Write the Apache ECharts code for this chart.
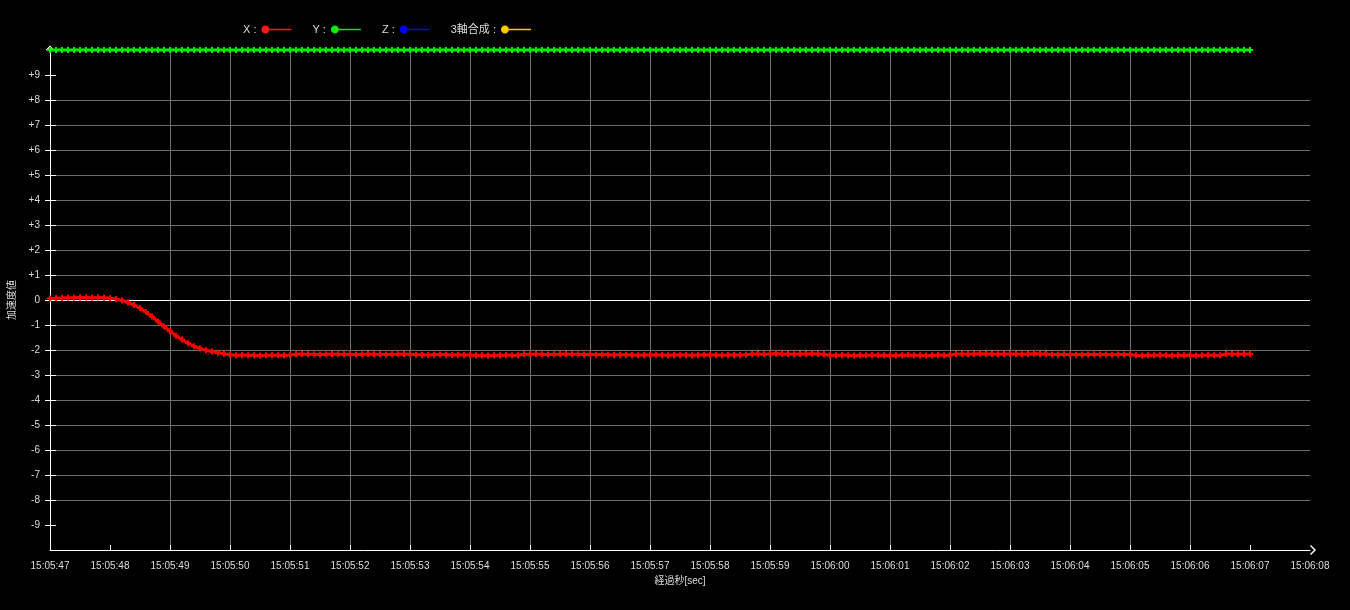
<!DOCTYPE html>
<html>
<head>
<meta charset="utf-8">
<script src="https://cdn.jsdelivr.net/npm/echarts@6/dist/echarts.min.js"></script>
<style>
html,body{margin:0;padding:0;background:#000;}
#c{width:1350px;height:610px;}
</style>
</head>
<body>
<div id="c"></div>
<script>
// sample times in tenths of a second after 15:05:47
const tenths = [0,1,2,3,4,5,6,7,8,9,10,11,12,13,14,15,16,17,18,19,20,21,22,23,24,25,26,27,28,29,30,31,32,33,34,35,36,37,38,39,40,41,42,43,44,45,46,47,48,49,50,51,52,53,54,55,56,57,58,59,60,61,62,63,64,65,66,67,68,69,70,71,72,73,74,75,76,77,78,79,80,81,82,83,84,85,86,87,88,89,90,91,92,93,94,95,96,97,98,99,100,101,102,103,104,105,106,107,108,109,110,111,112,113,114,115,116,117,118,119,120,121,122,123,124,125,126,127,128,129,130,131,132,133,134,135,136,137,138,139,140,141,142,143,144,145,146,147,148,149,150,151,152,153,154,155,156,157,158,159,160,161,162,163,164,165,166,167,168,169,170,171,172,173,174,175,176,177,178,179,180,181,182,183,184,185,186,187,188,189,190,191,192,193,194,195,196,197,198,199,200];
const xVals = [0.06,0.07,0.08,0.09,0.09,0.1,0.1,0.09,0.1,0.09,
0.07,0.04,-0.02,-0.1,-0.2,-0.33,-0.48,-0.66,-0.86,-1.06,
-1.25,-1.43,-1.58,-1.73,-1.85,-1.94,-2.01,-2.06,-2.11,-2.15,-2.19,
-2.21,-2.2,-2.21,-2.21,-2.22,-2.21,-2.2,-2.21,-2.21,-2.2,
-2.17,-2.16,-2.17,-2.17,-2.18,-2.17,-2.16,-2.17,-2.17,-2.17,-2.18,-2.17,-2.16,-2.17,-2.17,-2.18,-2.17,-2.17,-2.16,-2.17,
-2.19,-2.19,-2.2,-2.19,-2.18,-2.19,-2.2,-2.19,-2.2,-2.2,
-2.21,-2.21,-2.22,-2.21,-2.21,-2.2,-2.21,-2.21,
-2.17,-2.17,-2.16,-2.17,-2.18,-2.17,-2.17,-2.16,-2.17,-2.17,-2.18,-2.17,
-2.19,-2.18,-2.19,-2.2,-2.19,-2.19,
-2.2,-2.21,-2.2,-2.2,-2.19,-2.2,-2.21,-2.2,-2.2,-2.2,-2.21,-2.2,-2.19,-2.2,-2.2,-2.21,-2.2,-2.2,-2.2,-2.19,
-2.16,-2.16,-2.17,-2.16,-2.15,-2.16,-2.16,-2.17,-2.16,-2.16,-2.15,-2.16,-2.17,
-2.21,-2.21,-2.2,-2.21,-2.22,-2.21,-2.21,-2.2,-2.21,-2.21,-2.22,-2.21,-2.21,-2.2,-2.21,-2.21,-2.22,-2.21,-2.2,-2.21,-2.21,
-2.16,-2.16,-2.17,-2.16,-2.15,-2.16,-2.16,-2.17,-2.16,-2.16,-2.16,-2.17,-2.16,-2.15,-2.16,-2.16,
-2.18,-2.18,-2.17,-2.18,-2.19,-2.18,-2.18,-2.17,-2.18,-2.18,-2.19,-2.18,-2.18,-2.18,
-2.21,-2.22,-2.21,-2.21,-2.2,-2.21,-2.22,-2.21,-2.21,-2.21,-2.22,-2.21,-2.2,-2.21,-2.21,
-2.16,-2.16,-2.17,-2.16,-2.16];
const yVals = [10,10,10,10,10,10,10,10,10,10,10,10,10,10,10,10,10,10,10,10,10,10,10,10,10,10,10,10,10,10,10,10,10,10,10,10,10,10,10,10,10,10,10,10,10,10,10,10,10,10,10,10,10,10,10,10,10,10,10,10,10,10,10,10,10,10,10,10,10,10,10,10,10,10,10,10,10,10,10,10,10,10,10,10,10,10,10,10,10,10,10,10,10,10,10,10,10,10,10,10,10,10,10,10,10,10,10,10,10,10,10,10,10,10,10,10,10,10,10,10,10,10,10,10,10,10,10,10,10,10,10,10,10,10,10,10,10,10,10,10,10,10,10,10,10,10,10,10,10,10,10,10,10,10,10,10,10,10,10,10,10,10,10,10,10,10,10,10,10,10,10,10,10,10,10,10,10,10,10,10,10,10,10,10,10,10,10,10,10,10,10,10,10,10,10,10,10,10,10,10,10];
const zVals = [];
const sumVals = [];
const seriesNames = ['X', 'Y', 'Z', '3軸合成'];
const yTickValues = [-9,-8,-7,-6,-5,-4,-3,-2,-1,0,1,2,3,4,5,6,7,8,9];
const xTickValues = [10,20,30,40,50,60,70,80,90,100,110,120,130,140,150,160,170,180,190,200];
const xLabelValues = [0,10,20,30,40,50,60,70,80,90,100,110,120,130,140,150,160,170,180,190,200,210];
const startSec = 15*3600 + 5*60 + 47;

function pairs(vals){ return vals.map((v,i)=>[tenths[i], v]); }
function fmtTime(t){
  const s = startSec + Math.round(t/10);
  const h = Math.floor(s/3600), m = Math.floor(s%3600/60), ss = s%60;
  const p = n => (n<10?'0':'')+n;
  return p(h)+':'+p(m)+':'+p(ss);
}
const FONT = "'Liberation Sans','Noto Sans CJK JP',sans-serif";
const plusSym = 'path://M2,0 L4,0 L4,2 L6,2 L6,4 L4,4 L4,6 L2,6 L2,4 L0,4 L0,2 L2,2 Z';
const chevron = 'path://M5,0 L10,5 L9,6 L5,2 L1,6 L0,5 Z';
const legendIcon = 'path://M0,4 C0,1.8 1.8,0 4,0 C6.2,0 8,1.8 8,4 C8,6.2 6.2,8 4,8 C1.8,8 0,6.2 0,4 Z M8,3.3 L30,3.3 L30,4.7 L8,4.7 Z';

const chart = echarts.init(document.getElementById('c'), null, {renderer:'canvas'});
chart.setOption({
  backgroundColor: '#000',
  animation: false,
  textStyle: {fontFamily: FONT},
  legend: {
    left: 238, top: 19,
    itemWidth: 30, itemHeight: 8, itemGap: 21,
    align: 'right',
    icon: legendIcon,
    formatter: '{name} :',
    textStyle: {color: '#dddddd', fontSize: 11, fontFamily: FONT},
    data: [
      {name: 'X', itemStyle: {color: '#ff1a1a', borderWidth: 0}, lineStyle: {color: '#f06060'}},
      {name: 'Y', itemStyle: {color: '#00ee00', borderWidth: 0}, lineStyle: {color: '#2e8b57'}},
      {name: 'Z', itemStyle: {color: '#0000ff', borderWidth: 0}, lineStyle: {color: '#1a1a80'}},
      {name: '3軸合成', itemStyle: {color: '#ffc800', borderWidth: 0}, lineStyle: {color: '#ffa500'}}
    ]
  },
  grid: {left: 50, right: 40, top: 50, bottom: 60, containLabel: false, outerBoundsMode: 'none'},
  xAxis: {
    type: 'value', min: 0, max: 210, interval: 10,
    name: '経過秒[sec]', nameLocation: 'middle', nameGap: 25,
    nameTextStyle: {color: '#dddddd', fontSize: 10, fontFamily: FONT},
    axisLine: {show: true, onZero: false, lineStyle: {color: '#ffffff', width: 1},
      symbol: ['none', chevron], symbolSize: [10, 6], symbolOffset: [0, 3]},
    axisTick: {show: true, inside: true, length: 5, customValues: xTickValues, lineStyle: {color: '#ffffff'}},
    axisLabel: {color: '#dddddd', fontSize: 10, margin: 11, customValues: xLabelValues, formatter: v => fmtTime(v), fontFamily: FONT},
    splitLine: {show: true, showMinLine: false, showMaxLine: false, lineStyle: {color: '#6e6e6e', width: 1}}
  },
  yAxis: [{
    type: 'value', min: -10, max: 10, interval: 1,
    name: '加速度値', nameLocation: 'middle', nameGap: 32, nameRotate: 90,
    nameTextStyle: {color: '#dddddd', fontSize: 10, fontFamily: FONT},
    axisLine: {show: true, onZero: false, lineStyle: {color: '#ffffff', width: 1},
      symbol: ['none', chevron], symbolSize: [10, 5], symbolOffset: [0, 2]},
    axisTick: {show: true, inside: true, length: 6, customValues: yTickValues, lineStyle: {color: '#ffffff'}},
    axisLabel: {color: '#dddddd', fontSize: 10, margin: 10, customValues: yTickValues, fontFamily: FONT,
      formatter: v => v > 0 ? '+' + v : String(v)},
    splitLine: {show: true, showMinLine: false, showMaxLine: false, lineStyle: {color: '#6e6e6e', width: 1}}
  }, {
    type: 'value', min: -10, max: 10, interval: 1, position: 'left', offset: 0,
    axisLine: {show: false},
    axisTick: {show: true, inside: false, length: 5, customValues: yTickValues, lineStyle: {color: '#ffffff'}},
    axisLabel: {show: false},
    splitLine: {show: false}
  }],
  series: [
    {
      name: 'X', type: 'line', data: pairs(xVals), yAxisIndex: 0,
      symbol: plusSym, symbolSize: 6, showSymbol: true, showAllSymbol: true,
      itemStyle: {color: '#ff0000'}, lineStyle: {color: '#ff0000', width: 3},
      z: 3,
      markLine: {
        silent: true, symbol: ['none','none'], label: {show: false},
        lineStyle: {color: '#ffffff', width: 1, type: 'solid'},
        data: [{yAxis: 0}], z: 2
      }
    },
    {
      name: 'Y', type: 'line', data: pairs(yVals), yAxisIndex: 0, clip: false,
      symbol: plusSym, symbolSize: 6, showSymbol: true, showAllSymbol: true,
      itemStyle: {color: '#00ee00'}, lineStyle: {color: '#00ee00', width: 3},
      z: 3
    },
    {
      name: 'Z', type: 'line', data: pairs(zVals), yAxisIndex: 0,
      itemStyle: {color: '#0000ff'}, lineStyle: {color: '#0000ff', width: 2}
    },
    {
      name: '3軸合成', type: 'line', data: pairs(sumVals), yAxisIndex: 0,
      itemStyle: {color: '#ffc800'}, lineStyle: {color: '#ffa500', width: 2}
    }
  ]
});
</script>
</body>
</html>
